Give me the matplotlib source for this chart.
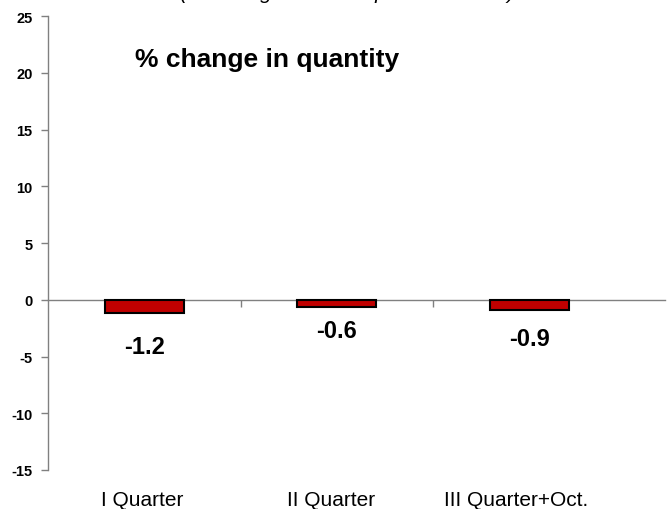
import matplotlib
matplotlib.use("Agg")
import matplotlib.pyplot as plt
from matplotlib.transforms import blended_transform_factory

categories = ["I Quarter", "II Quarter", "III Quarter+Oct."]
values = [-1.2, -0.6, -0.9]
value_labels = ["-1.2", "-0.6", "-0.9"]
yticks = [-15, -10, -5, 0, 5, 10, 15, 20, 25]
title = "% change in quantity"
subtitle = "(as change on same period in 2013)"

plt.rcParams['font.family'] = ['Liberation Sans', 'DejaVu Sans']

fig = plt.figure(figsize=(6.67, 5.1), dpi=100)
ax = fig.add_axes([48/667, 1-471/510, (665-48)/667, (471-17)/510])

xs = list(range(len(categories)))
ax.bar(xs, values, width=0.41, color='#C00000', edgecolor='black', linewidth=1.5, zorder=3)

ax.set_xlim(-0.5, 2.5 + (665-626)/192)
ax.set_ylim(-15, 25)
ax.set_yticks(yticks)
ax.set_yticklabels([str(t) for t in yticks], fontsize=10.5, fontweight='bold')
ax.tick_params(axis='y', direction='out', length=5, color='#808080', width=1, pad=6)

for s in ['top', 'right']:
    ax.spines[s].set_visible(False)
ax.spines['left'].set_color('#808080')
ax.spines['bottom'].set_color('#808080')
ax.spines['bottom'].set_position(('data', 0))
ax.spines['left'].set_linewidth(1)
ax.spines['bottom'].set_linewidth(1)

ax.set_xticks([0.5, 1.5])
ax.set_xticklabels([])
ax.tick_params(axis='x', direction='out', length=5, color='#808080', width=1)

trans = blended_transform_factory(ax.transData, ax.transAxes)
label_dx = [-0.01, -0.03, -0.07]
for x, c, dx in zip(xs, categories, label_dx):
    ax.text(x + dx, -0.065, c, transform=trans, ha='center', va='center', fontsize=15)

label_offsets = [-33, -24, -29]
for x, v, t, off in zip(xs, values, value_labels, label_offsets):
    ax.annotate(t, (x, v), xytext=(0, off * 0.72), textcoords='offset points',
                ha='center', va='center', fontsize=17, fontweight='bold')

fig.text(135/667, 1-60/510, title, fontsize=19, fontweight='bold', ha='left', va='center')
fig.text(347/667, 1-(-7)/510, subtitle, fontsize=15, style='italic', ha='center', va='center')

fig.savefig("out.png", dpi=100)
